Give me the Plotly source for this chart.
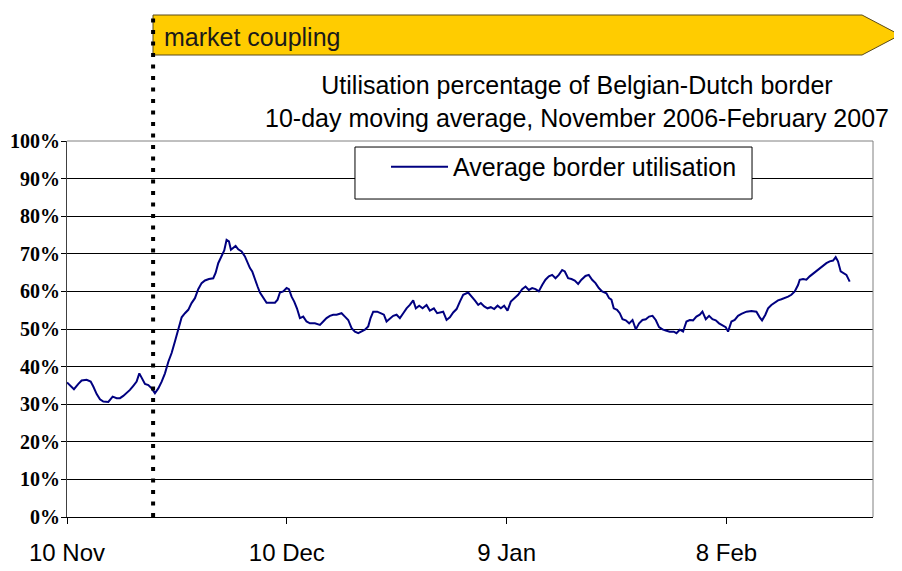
"""Belgian-Dutch border utilisation, 10-day moving average (Nov 2006 - Feb 2007)."""

import pandas as pd
import plotly.graph_objects as go

START = "2006-11-10"
COUPLING_DATE = "2006-11-21 18:00"
X_END = "2007-02-28"

# days after START
days = [
    0.0, 0.41, 0.95, 1.55, 2.0, 2.68, 3.23, 3.59, 4.05, 4.5, 4.96, 5.64, 6.23, 6.78,
    7.23, 7.68, 8.14, 8.59, 9.05, 9.5, 9.87, 10.19, 10.64, 11.1, 11.55, 12.0, 12.46,
    12.92, 13.37, 13.83, 14.28, 14.73, 15.19, 15.65, 16.1, 16.55, 17.0, 17.46, 17.91,
    18.37, 18.83, 19.37, 19.96, 20.28, 20.64, 21.1, 21.46, 21.78, 22.1, 22.37, 22.69,
    23.01, 23.37, 23.83, 24.28, 24.65, 24.97, 25.28, 25.65, 26.01, 26.33, 26.79, 27.24,
    27.83, 28.38, 28.74, 29.06, 29.51, 29.97, 30.29, 30.65, 31.01, 31.38, 31.79, 32.24,
    32.69, 33.15, 33.83, 34.52, 34.97, 35.42, 35.88, 36.33, 36.79, 37.47, 37.93, 38.38,
    38.84, 39.29, 39.75, 40.2, 40.66, 41.11, 41.43, 41.79, 42.34, 42.79, 43.25, 43.61,
    44.07, 44.52, 44.98, 45.43, 45.89, 46.34, 46.79, 47.25, 47.61, 48.07, 48.53, 49.07,
    49.52, 50.07, 50.52, 50.98, 51.34, 51.8, 52.25, 52.71, 53.17, 53.62, 54.07, 54.75,
    55.3, 55.66, 56.12, 56.48, 56.94, 57.39, 57.84, 58.3, 58.76, 59.21, 59.66, 60.12,
    60.57, 61.12, 61.57, 62.12, 62.58, 63.03, 63.48, 63.94, 64.39, 64.85, 65.3, 65.76,
    66.21, 66.67, 67.12, 67.58, 67.94, 68.39, 68.85, 69.3, 69.76, 70.21, 70.76, 71.21,
    71.67, 72.13, 72.58, 73.03, 73.62, 73.98, 74.3, 74.62, 75.07, 75.44, 75.81, 76.26,
    76.72, 77.18, 77.63, 78.08, 78.54, 78.99, 79.44, 79.91, 80.35, 80.8, 81.27, 81.72,
    82.26, 82.81, 83.18, 83.63, 84.08, 84.54, 84.99, 85.44, 85.9, 86.36, 86.72, 87.18,
    87.63, 88.09, 88.54, 88.99, 89.45, 89.9, 90.22, 90.68, 91.13, 91.58, 92.04, 92.73,
    93.41, 94.09, 94.54, 94.86, 95.31, 95.68, 96.13, 96.59, 97.04, 97.5, 97.95, 98.41,
    98.86, 99.32, 99.77, 100.0, 100.45, 100.91, 101.36, 101.82, 102.27, 102.73, 103.18,
    103.64, 104.09, 104.55, 104.91, 105.22, 105.59, 106.04, 106.37, 106.82,
]

# utilisation in %
utilisation = [
    35.8, 34.9, 34.0, 35.4, 36.3, 36.5, 36.0, 34.7, 32.7, 31.3, 30.7, 30.6, 32.0, 31.6,
    31.6, 32.2, 32.9, 33.8, 34.9, 36.0, 38.2, 36.9, 35.4, 35.1, 34.2, 32.9, 34.2,
    36.0, 38.2, 41.3, 43.6, 46.7, 49.8, 53.1, 54.2, 55.1, 56.9, 58.2, 60.6,
    62.2, 62.9, 63.3, 63.5, 64.9, 67.5, 69.7, 70.9, 73.7, 73.3, 71.1, 71.5,
    72.1, 71.2, 70.6, 69.3, 67.5, 66.2, 65.3, 63.1, 61.3, 59.7, 58.2, 57.0,
    57.0, 57.0, 57.8, 59.7, 60.0, 60.9, 60.6, 58.6, 57.3, 55.5, 52.9, 53.3,
    52.0, 51.5, 51.5, 51.1, 52.0, 52.9, 53.5, 53.8, 53.8, 54.2, 53.3, 52.4,
    50.2, 49.3, 48.9, 49.3, 49.8, 50.7, 52.9, 54.6, 54.6, 54.2, 53.8, 52.0,
    52.9, 53.5, 53.8, 52.9, 54.2, 55.5, 56.4, 57.6, 55.5, 56.2, 55.5, 56.4,
    54.9, 55.5, 54.2, 54.4, 54.6, 52.4, 53.1, 54.4, 55.3, 57.3, 59.1, 59.7,
    58.6, 57.6, 56.4, 56.9, 56.0, 55.5, 55.8, 55.3, 56.2, 55.5, 56.2, 54.9,
    57.3, 58.2, 59.1, 60.6, 61.3, 60.4, 60.9, 60.6, 60.0, 61.7, 63.1, 64.0,
    64.4, 63.5, 64.4, 65.7, 65.3, 63.5, 63.3, 62.9, 62.0, 63.1, 64.1, 64.4,
    63.1, 62.2, 60.9, 60.0, 59.5, 58.2, 57.8, 55.5, 55.1, 54.2, 52.6, 52.3,
    51.5, 52.4, 49.9, 51.5, 52.4, 52.6, 53.3, 53.5, 52.4, 50.5, 49.9, 49.6,
    49.3, 49.3, 48.9, 49.8, 49.3, 52.0, 52.4, 52.3, 53.3, 53.8, 54.6, 52.6,
    53.5, 52.6, 52.3, 51.5, 51.1, 50.5, 49.3, 52.0, 52.4, 53.5, 54.0, 54.6,
    54.8, 54.6, 53.1, 52.3, 53.8, 55.5, 56.4, 57.0, 57.6, 57.9, 58.2, 58.6,
    59.1, 60.0, 61.7, 63.1, 63.3, 63.1, 64.0, 64.7, 65.3, 66.2, 66.8,
    67.5, 68.0, 68.2, 69.1, 68.0, 65.3, 64.9, 64.4, 62.6,
]

x_tick_dates = ["2006-11-10", "2006-12-10", "2007-01-09", "2007-02-08"]

SANS = "Liberation Sans, Arial, sans-serif"
SERIF = "Liberation Serif, Times New Roman, serif"

timestamps = pd.Timestamp(START) + pd.to_timedelta(days, unit="D")

fig = go.Figure()
fig.add_trace(go.Scatter(
    x=timestamps, y=utilisation,
    mode="lines",
    name="Average border utilisation",
    line=dict(color="#000080", width=2),
    hovertemplate="%{x|%d %b %Y}<br>%{y:.1f}%<extra></extra>",
))

shapes = [
    # legend frame
    dict(type="rect", xref="paper", yref="paper", x0=0.3573, x1=0.8499, y0=0.8457, y1=0.984,
         fillcolor="white", line=dict(color="black", width=1), layer="above"),
    # grey top/right plot border
    dict(type="path", xref="paper", yref="paper", path="M 0,1 L 1,1 L 1,0",
         line=dict(color="#808080", width=1), layer="above"),
    # market coupling arrow
    dict(type="path", xref="paper", yref="paper",
         path="M 0.1067,1.2287 L 0.1067,1.3351 L 0.9864,1.3351 L 1.0335,1.2819 L 0.9864,1.2287 Z",
         fillcolor="#FFCC00", line=dict(color="#5a4a1a", width=1), layer="above"),
    # start of market coupling
    dict(type="line", xref="x", yref="paper", x0=COUPLING_DATE, x1=COUPLING_DATE, y0=0, y1=1.3351,
         line=dict(color="black", width=4, dash="4px,7.5px"), layer="above"),
]

# the page body adds an 8px offset, so the figure is 8px smaller on each axis
fig.update_layout(
    width=894, height=563,
    margin=dict(l=59, r=29, t=133, b=54),
    paper_bgcolor="white", plot_bgcolor="white",
    title=dict(
        text="Utilisation percentage of Belgian-Dutch border<br>"
             "10-day moving average, November 2006-February 2007",
        x=569 / 894, xanchor="center", xref="container",
        y=1 - 86 / 563, yanchor="middle",
        font=dict(family=SANS, size=25, color="black"),
    ),
    xaxis=dict(
        type="date", range=[START, X_END],
        tickmode="array", tickvals=x_tick_dates, tickformat="%-d %b",
        ticks="outside", ticklen=6, tickcolor="black", ticklabelstandoff=8,
        showline=True, linecolor="black", linewidth=1,
        showgrid=False, zeroline=False, automargin=False,
        tickfont=dict(family=SANS, size=24, color="black"),
    ),
    yaxis=dict(
        range=[0, 100], dtick=10, ticksuffix="%",
        ticks="outside", ticklen=5, tickcolor="black", ticklabelstandoff=-3,
        showline=True, linecolor="#404040", linewidth=1,
        showgrid=True, gridcolor="black", gridwidth=1,
        zeroline=False, automargin=False,
        tickfont=dict(family=SERIF, size=20, color="black", weight="bold"),
    ),
    showlegend=True,
    legend=dict(
        x=0.3958, y=0.9309, xanchor="left", yanchor="middle",
        bgcolor="rgba(0,0,0,0)", borderwidth=0, itemwidth=57,
        font=dict(family=SANS, size=25, color="black"),
    ),
    shapes=shapes,
    annotations=[dict(
        text="market coupling", xref="paper", yref="paper",
        x=0.1179, y=1.2766, xanchor="left", yanchor="middle", showarrow=False,
        font=dict(family=SANS, size=25, color="#1a1a1a"),
    )],
)

fig.write_html("out.html")
